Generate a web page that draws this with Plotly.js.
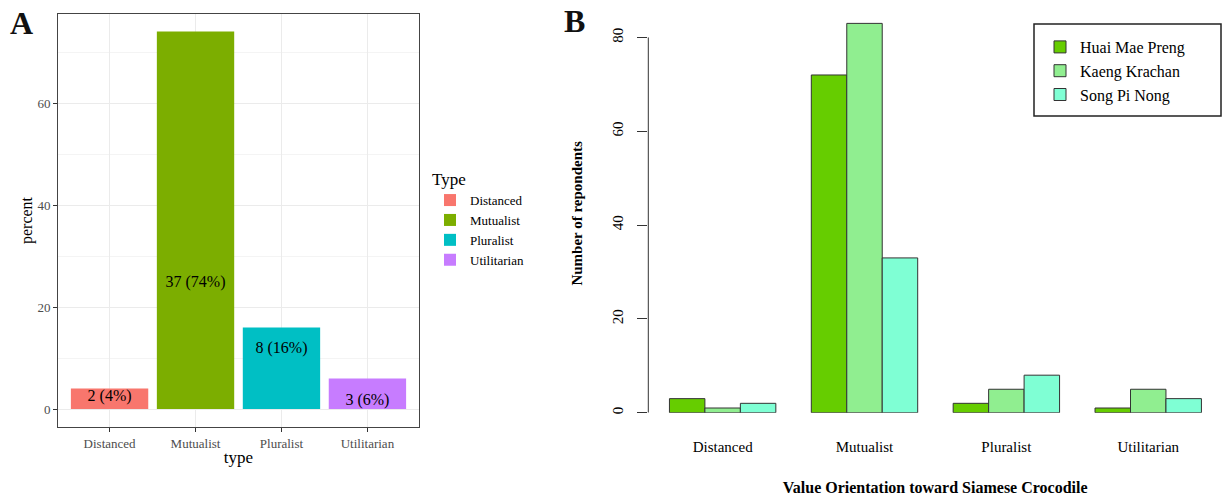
<!DOCTYPE html>
<html><head><meta charset="utf-8">
<script src="https://cdn.plot.ly/plotly-3.0.1.min.js"></script>
<style>html,body{margin:0;padding:0;background:#fff}#chart{width:1222px;height:498px}</style>
</head><body><div id="chart"></div>
<script>
// ---- Panel A data ----
const typesA = ['Distanced', 'Mutualist', 'Pluralist', 'Utilitarian'];
const percentA = [4, 74, 16, 6];
const countA = [2, 37, 8, 3];
const labelY = [2.4, 24.7, 11.7, 1.6];
const colorsA = ['#F8766D', '#7CAE00', '#00BFC4', '#C77CFF'];

// ---- Panel B data ----
const categoriesB = ['Distanced', 'Mutualist', 'Pluralist', 'Utilitarian'];
const sitesB = ['Huai Mae Preng', 'Kaeng Krachan', 'Song Pi Nong'];
const huaiMaePreng = [3, 72, 2, 1];
const kaengKrachan = [1, 83, 5, 5];
const songPiNong = [2, 33, 8, 3];
const colorsB = ['#66CD00', '#90EE90', '#7FFFD4'];

const W = 1222, H = 498;
const px = v => v / W;
const py = v => 1 - v / H;
const FONT = 'Liberation Serif, Times New Roman, serif';

const traces = [];
typesA.forEach((t, i) => {
  traces.push({
    type: 'bar', x: [t], y: [percentA[i]], name: t,
    marker: {color: colorsA[i]}, width: 0.9, offsetgroup: 'A',
    xaxis: 'x', yaxis: 'y', legend: 'legend'
  });
});
traces.push({
  type: 'scatter', mode: 'text', x: typesA, y: labelY,
  text: typesA.map((t, i) => countA[i] + ' (' + percentA[i] + '%)'),
  textfont: {family: FONT, size: 16, color: '#000'},
  showlegend: false, xaxis: 'x', yaxis: 'y', hoverinfo: 'skip'
});
const seriesB = [huaiMaePreng, kaengKrachan, songPiNong];
seriesB.forEach((s, i) => {
  traces.push({
    type: 'bar', x: categoriesB, y: s, name: sitesB[i],
    marker: {color: colorsB[i], line: {color: '#333', width: 1}},
    xaxis: 'x2', yaxis: 'y2', legend: 'legend2'
  });
});

const layout = {
  width: W, height: H,
  margin: {l: 0, r: 0, t: 0, b: 0},
  paper_bgcolor: '#fff', plot_bgcolor: '#fff',
  font: {family: FONT, color: '#000'},
  barmode: 'group', bargap: 0.25, bargroupgap: 0,
  xaxis: {
    domain: [px(58), px(419)], anchor: 'y', type: 'category', range: [-0.6, 3.6],
    showline: true, mirror: true, linecolor: '#444', linewidth: 1,
    ticks: 'outside', ticklen: 4, tickcolor: '#333',
    tickfont: {size: 13, color: '#4d4d4d'},
    showgrid: true, gridcolor: '#ebebeb', zeroline: false,
    title: {text: 'type', font: {size: 17}, standoff: 1}
  },
  yaxis: {
    domain: [py(427), py(14)], anchor: 'x', range: [-3.53, 77.45],
    tick0: 0, dtick: 20,
    showline: true, mirror: true, linecolor: '#444', linewidth: 1,
    ticks: 'outside', ticklen: 4, tickcolor: '#333',
    tickfont: {size: 13, color: '#4d4d4d'},
    showgrid: true, gridcolor: '#ebebeb', zeroline: false,
    minor: {tick0: 0, dtick: 10, showgrid: true, gridcolor: '#f4f4f4', ticks: ''},
    title: {text: 'percent', font: {size: 16}, standoff: 0}
  },
  xaxis2: {
    domain: [px(648.3), 1], anchor: 'y2', type: 'category', range: [-0.524, 3.52],
    showline: false, showgrid: false, zeroline: false, ticks: '',
    ticklabelstandoff: 23, tickfont: {size: 15, color: '#000'},
    title: {text: '<b>Value Orientation toward Siamese Crocodile</b>', font: {size: 16}, standoff: 28}
  },
  yaxis2: {
    domain: [py(412.7), py(14)], anchor: 'x2', range: [0, 85],
    tick0: 0, dtick: 20,
    showline: false, showgrid: false, zeroline: false,
    ticks: 'outside', ticklen: 10, tickcolor: '#333', tickangle: -90,
    tickfont: {size: 15, color: '#000'}, ticklabelstandoff: 8,
    title: {text: '<b>Number of repondents</b>', font: {size: 15}, standoff: 24}
  },
  legend: {
    x: px(430), y: py(163), xanchor: 'left', yanchor: 'top',
    title: {text: 'Type', font: {size: 17}},
    font: {size: 13}, bgcolor: 'rgba(0,0,0,0)', tracegroupgap: 0
  },
  legend2: {
    x: px(1040), y: py(30), xanchor: 'left', yanchor: 'top',
    font: {size: 16}, bgcolor: 'rgba(0,0,0,0)', borderwidth: 0
  },
  shapes: [
    {type: 'line', xref: 'x2 domain', yref: 'y2', x0: 0, x1: 0, y0: 0, y1: 80,
     line: {color: '#333', width: 1}},
    {type: 'rect', xref: 'paper', yref: 'paper', x0: px(1034), x1: px(1221), y0: py(116), y1: py(24),
     line: {color: '#222', width: 1.5}}
  ],
  annotations: [
    {text: '<b>A</b>', xref: 'paper', yref: 'paper', x: px(21.5), y: py(22.5),
     showarrow: false, xanchor: 'center', yanchor: 'middle', font: {size: 32, color: '#111'}},
    {text: '<b>B</b>', xref: 'paper', yref: 'paper', x: px(574.5), y: py(21.5),
     showarrow: false, xanchor: 'center', yanchor: 'middle', font: {size: 32, color: '#111'}}
  ]
};

Plotly.newPlot('chart', traces, layout, {displayModeBar: false, responsive: false});
</script>
</body></html>
